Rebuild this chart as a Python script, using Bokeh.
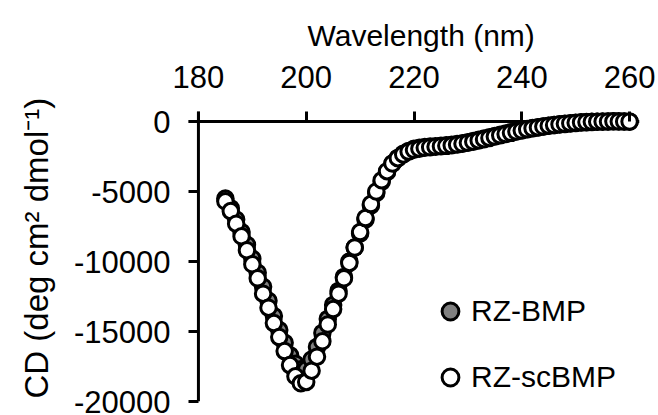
from bokeh.plotting import figure
from bokeh.models import Range1d, Legend, LegendItem, ColumnDataSource, FixedTicker, Span, Title
from bokeh.embed import file_html
from bokeh.resources import INLINE

# ---------------- data ----------------
wavelength = list(range(185, 261))
rz_bmp = [
    -5500, -6200, -7000, -7900, -8800, -9800, -10800, -11800, -12800, -13900,   # 185-194
    -14900, -15800, -16700, -17300, -17700, -17700, -17000, -16100, -15100, -14100,  # 195-204
    -13100, -12100, -11100, -10000, -9000, -8000, -7000, -6000, -5100, -4300,   # 205-214
    -3600, -3000, -2600, -2300, -2100, -1950, -1880, -1830, -1790, -1760,      # 215-224
    -1730, -1700, -1660, -1610, -1550, -1480, -1400, -1310, -1220, -1130,      # 225-234
    -1040, -950, -860, -770, -690, -610, -540, -470, -410, -350,              # 235-244
    -300, -250, -210, -170, -140, -110, -80, -60, -40, -20,                   # 245-254
    -10, 0, 10, 10, 0, -10,                                                   # 255-260
]
rz_scbmp = [
    -5700, -6400, -7300, -8200, -9200, -10200, -11200, -12300, -13300, -14400,  # 185-194
    -15400, -16400, -17400, -18200, -18700, -18600, -17800, -16800, -15700, -14500,  # 195-204
    -13400, -12300, -11200, -10100, -9000, -7900, -6900, -5900, -5000, -4200,  # 205-214
    -3550, -3000, -2620, -2350, -2150, -2020, -1940, -1880, -1840, -1800,      # 215-224
    -1770, -1740, -1700, -1650, -1590, -1520, -1440, -1350, -1260, -1170,      # 225-234
    -1080, -990, -900, -810, -720, -640, -560, -490, -420, -360,              # 235-244
    -300, -250, -200, -160, -120, -90, -60, -40, -20, -10,                    # 245-254
    0, 0, 10, 0, 0, 0,                                                        # 255-260
]
x_ticks = [180, 200, 220, 240, 260]
y_ticks = [0, -5000, -10000, -15000, -20000]
y_tick_labels = ["0", "-5000", "-10000", "-15000", "-20000"]
series_labels = ["RZ-BMP", "RZ-scBMP"]
x_title = "Wavelength (nm)"
y_title = "CD (deg cm\u00b2 dmol\u207b\u00b9)"

# ---------------- layout ----------------
FONT = "Liberation Sans"
TICK_FS = "31px"
XT_FS = "30px"
YT_FS = "33px"
LEG_FS = "30px"
PX_PER_NM = 5.425
PX_PER_UNIT = 0.014
TICK = 10
AX_X0_PX, AX_Y0_PX = 195, 121           # pixel position of (180, 0)
FRAME_L = AX_X0_PX - TICK
FRAME_T = AX_Y0_PX - TICK
FRAME_R = 639
FRAME_B = 401
W, H = 658, 415

x_start = 180 - TICK / PX_PER_NM
x_end = 180 + (FRAME_R - AX_X0_PX) / PX_PER_NM
y_start = -20000
y_end = TICK / PX_PER_UNIT

p = figure(
    width=W, height=H,
    min_border_left=FRAME_L, min_border_top=FRAME_T,
    min_border_right=W - FRAME_R, min_border_bottom=H - FRAME_B,
    x_range=Range1d(x_start, x_end), y_range=Range1d(y_start, y_end),
    x_axis_location="above",
    output_backend="svg", toolbar_location=None,
)
p.grid.visible = False
p.outline_line_color = None
p.background_fill_color = "white"
p.border_fill_color = "white"

xa = p.xaxis[0]
ya = p.yaxis[0]
xa.ticker = FixedTicker(ticks=x_ticks)
ya.ticker = FixedTicker(ticks=y_ticks)
ya.major_label_overrides = dict(zip(y_ticks, y_tick_labels))

for ax in (xa, ya):
    ax.axis_line_color = None
    ax.major_tick_line_width = 3
    ax.major_tick_line_color = "black"
    ax.major_tick_out = 0
    ax.major_tick_in = TICK
    ax.minor_tick_line_color = None
    ax.major_label_text_font = FONT
    ax.major_label_text_font_size = TICK_FS
    ax.major_label_text_color = "black"

xa.major_label_standoff = 24
ya.major_label_standoff = 18

# axis lines at y = 0 and x = 180
p.add_layout(Span(location=0, dimension="width", line_color="black", line_width=3, level="underlay"))
p.add_layout(Span(location=180, dimension="height", line_color="black", line_width=3, level="underlay"))

# axis titles
p.title.text = x_title
p.title.align = "left"
p.title.offset = 119
p.title.text_font = FONT
p.title.text_font_size = XT_FS
p.title.text_font_style = "normal"
p.title.text_color = "black"
p.title.standoff = 22

ytitle = Title(text=y_title, align="left", offset=3, text_font=FONT, text_font_size=YT_FS,
               text_font_style="normal", text_color="black", standoff=31)
p.add_layout(ytitle, "left")

src = ColumnDataSource(dict(wl=wavelength, bmp=rz_bmp, scbmp=rz_scbmp))
r1 = p.scatter("wl", "bmp", source=src, size=15.5, fill_color="#808080",
               line_color="black", line_width=3)
r2 = p.scatter("wl", "scbmp", source=src, size=15.5, fill_color="white",
               line_color="black", line_width=3)

legend = Legend(
    items=[LegendItem(label=series_labels[0], renderers=[r1]),
           LegendItem(label=series_labels[1], renderers=[r2])],
    location=(241, 3), orientation="vertical",
    glyph_width=42, glyph_height=42, label_height=42, label_standoff=-6,
    spacing=24, padding=0, margin=0,
    border_line_color=None, background_fill_alpha=0,
    label_text_font=FONT, label_text_font_size=LEG_FS, label_text_color="black",
)
p.add_layout(legend)

open("out.html", "w").write(file_html(p, INLINE))
